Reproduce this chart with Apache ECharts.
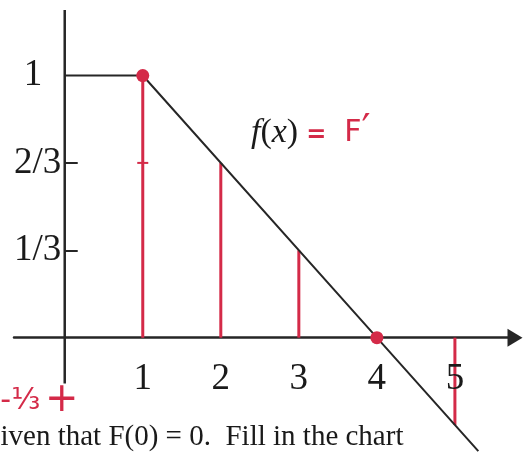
<!DOCTYPE html>
<html>
<head>
<meta charset="utf-8">
<script src="https://cdn.jsdelivr.net/npm/echarts@6/dist/echarts.min.js"></script>
<style>
  html, body { margin: 0; padding: 0; background: #ffffff; }
  #chart { width: 523px; height: 453px; }
</style>
</head>
<body>
<div id="chart"></div>
<script>
// f(x): flat at 1 up to x = 1, then falls linearly through (4, 0)
const fX = [0, 1, 4, 5.3];
const fY = [1, 1, 0, -0.433];

// Red stems drawn from the axis up (or down) to f at each integer
const stemX = [1, 2, 3, 5];
const stemY = [1, 2 / 3, 1 / 3, -1 / 3];

// Marked points on the graph
const dotX = [1, 4];
const dotY = [1, 0];

// Small cross-mark on the first stem
const notchX = [1];
const notchY = [2 / 3];

// Axis ticks and labels
const xTickValues = [1, 2, 3, 4, 5];
const xTickLabels = ['1', '2', '3', '4', '5'];
const yTickValues = [1, 2 / 3, 1 / 3];
const yTickLabels = ['1', '2/3', '1/3'];
const yDashValues = [2 / 3, 1 / 3];

// Hand-written mark for the negative value on the vertical axis
const yNoteValue = -1 / 3;
const yNoteLabel = '-⅓';

// Visible extent of the vertical axis
const yAxisSpan = [1.25, -0.175];

// Plot ranges
const X_MIN = -0.65, X_MAX = 5.77;
const Y_MIN = -0.44, Y_MAX = 1.25;

const RED = '#d42a48';
const INK = '#262626';
const SERIF = 'Liberation Serif';

const chart = echarts.init(document.getElementById('chart'));

const zip = (xs, ys) => xs.map((x, i) => [x, ys[i]]);

// Invisible anchor points that only carry text labels
const anchor = { symbolSize: 1, itemStyle: { color: 'rgba(0,0,0,0)', opacity: 1 }, silent: true };

chart.setOption({
  backgroundColor: '#ffffff',
  animation: false,
  grid: { left: 14, right: 8, top: 10, bottom: 0, containLabel: false, outerBoundsMode: 'none' },
  xAxis: {
    type: 'value',
    min: X_MIN,
    max: X_MAX,
    axisLine: {
      show: true,
      onZero: true,
      symbol: ['none', 'triangle'],
      symbolSize: [18, 15],
      lineStyle: { color: INK, width: 2.5 }
    },
    axisTick: { show: false },
    splitLine: { show: false },
    axisLabel: { show: false }
  },
  yAxis: {
    type: 'value',
    min: Y_MIN,
    max: Y_MAX,
    axisLine: { show: false, onZero: true },
    splitLine: { show: false },
    axisTick: {
      show: true,
      customValues: yDashValues,
      inside: true,
      length: 13,
      lineStyle: { color: INK, width: 2 }
    },
    axisLabel: { show: false }
  },
  series: [
    {
      name: 'y axis',
      type: 'line',
      data: [[0, yAxisSpan[0]], [0, yAxisSpan[1]]],
      symbol: 'none',
      lineStyle: { color: INK, width: 2.5 },
      silent: true,
      z: 1
    },
    {
      name: 'stems',
      type: 'bar',
      data: zip(stemX, stemY),
      barWidth: 3,
      itemStyle: { color: RED },
      z: 2
    },
    {
      name: 'f(x)',
      type: 'line',
      data: zip(fX, fY),
      symbol: 'none',
      clip: false,
      lineStyle: { color: INK, width: 2 },
      z: 3
    },
    {
      name: 'notch',
      type: 'scatter',
      data: zip(notchX, notchY),
      symbol: 'rect',
      symbolSize: [11, 2],
      itemStyle: { color: RED, opacity: 1 },
      z: 4
    },
    {
      name: 'points',
      type: 'scatter',
      data: zip(dotX, dotY),
      symbolSize: 13,
      itemStyle: { color: RED, opacity: 1 },
      z: 5
    },
    Object.assign({
      name: 'x labels',
      type: 'scatter',
      data: xTickValues.map((v, i) => ({ value: [v, 0], name: xTickLabels[i] })),
      label: {
        show: true,
        position: 'bottom',
        distance: 23,
        formatter: '{b}',
        fontFamily: SERIF,
        fontSize: 37,
        color: '#1a1a1a'
      },
      z: 6
    }, anchor),
    Object.assign({
      name: 'y labels',
      type: 'scatter',
      data: yTickValues.map((v, i) => ({ value: [0, v], name: yTickLabels[i] })),
      label: {
        show: true,
        position: 'left',
        distance: 3,
        formatter: function (p) {
          return p.dataIndex === 0 ? '{one|' + p.name + '}' : '{frac|' + p.name + '}';
        },
        rich: {
          one: { fontFamily: SERIF, fontSize: 37, color: '#1a1a1a', padding: [0, 19, 0, 0] },
          frac: { fontFamily: SERIF, fontSize: 37, color: '#1a1a1a' }
        }
      },
      z: 6
    }, anchor),
    Object.assign({
      name: 'note',
      type: 'scatter',
      data: [
        { value: [0, yNoteValue], name: '+', label: { position: 'inside', offset: [-3, -24], fontFamily: 'DejaVu Sans', fontSize: 40 } },
        { value: [0, yNoteValue], name: yNoteLabel, label: { position: 'left', distance: 24, offset: [0, -24], fontFamily: 'DejaVu Sans', fontSize: 30 } }
      ],
      label: { show: true, formatter: '{b}', color: RED },
      z: 6
    }, anchor)
  ],
  graphic: [
    {
      type: 'text',
      left: 251,
      top: 113,
      style: {
        text: '{fx|f}{par|(}{fx|x}{par|)}{eq|=}{F|F}{pr|′}',
        rich: {
          fx: { fontFamily: SERIF, fontStyle: 'italic', fontSize: 34, fill: '#1a1a1a' },
          par: { fontFamily: SERIF, fontSize: 34, fill: '#1a1a1a' },
          eq: { fontFamily: 'DejaVu Sans', fontSize: 24, fontWeight: 'bold', fill: RED, padding: [6, 0, 0, 8] },
          F: { fontFamily: 'DejaVu Sans', fontSize: 30, fill: RED, padding: [0, 0, 0, 18] },
          pr: { fontFamily: 'DejaVu Sans', fontSize: 40, fill: RED }
        }
      }
    },
    {
      type: 'text',
      left: -14,
      top: 423,
      style: {
        text: 'given that F(0) = 0.  Fill in the chart',
        fontFamily: SERIF,
        fontSize: 29,
        fill: '#1a1a1a'
      }
    }
  ]
});
</script>
</body>
</html>
